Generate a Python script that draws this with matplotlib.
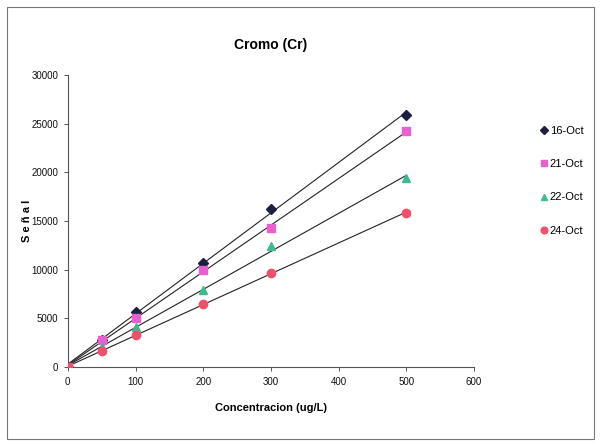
import matplotlib.pyplot as plt
import numpy as np
from matplotlib.patches import Rectangle

# concentration (ug/L) and signal per calibration day
conc = [0, 50, 100, 200, 300, 500]
oct16 = [0, 2800, 5700, 10700, 16200, 25900]
oct21 = [0, 2800, 5000, 10000, 14300, 24200]
oct22 = [0, 2100, 4100, 7900, 12400, 19400]
oct24 = [0, 1600, 3300, 6500, 9700, 15800]

series_labels = ["16-Oct", "21-Oct", "22-Oct", "24-Oct"]
series_markers = ["D", "s", "^", "o"]
series_colors = ["#1c1f3f", "#e860cf", "#3dbb8e", "#f0506a"]

FONT = ["Liberation Sans", "DejaVu Sans"]

fig = plt.figure(figsize=(6.0, 4.46), dpi=100)
fig.patches.append(Rectangle((0.012, 0.015), 0.978, 0.97, transform=fig.transFigure,
                             fill=False, edgecolor="#777777", linewidth=0.8))

ax = fig.add_axes([0.113, 0.177, 0.677, 0.655])

x = np.array(conc, dtype=float)
for values, label, marker, color in zip([oct16, oct21, oct22, oct24], series_labels,
                                        series_markers, series_colors):
    y = np.array(values, dtype=float)
    slope, intercept = np.polyfit(x, y, 1)
    ax.plot([0, 500], [intercept, slope * 500 + intercept], color="#222222", linewidth=0.8, zorder=2)
    ms = 5 if marker == "D" else 6
    ax.plot(x, y, linestyle="none", marker=marker, markersize=ms, color=color,
            markeredgecolor=color, label=label, zorder=3)

ax.set_xlim(0, 600)
ax.set_ylim(0, 30000)
ax.set_xticks(range(0, 601, 100))
ax.set_yticks(range(0, 30001, 5000))
for spine in ["top", "right"]:
    ax.spines[spine].set_visible(False)
ax.spines["left"].set_color("#555555")
ax.spines["bottom"].set_color("#555555")
ax.tick_params(direction="out", length=3, width=0.7, colors="#555555", labelcolor="#111111", pad=4)
for lab in ax.get_xticklabels() + ax.get_yticklabels():
    lab.set_family(FONT)
    lab.set_fontsize(7)

ax.set_title("Cromo (Cr)", fontsize=10, fontweight="bold", family=FONT, pad=19)
ax.set_xlabel("Concentracion (ug/L)", fontsize=8, fontweight="bold", family=FONT, labelpad=12)
ax.set_ylabel("S e ñ a l", fontsize=8, fontweight="bold", family=FONT)
ax.yaxis.set_label_coords(-0.088, 0.5)

leg = ax.legend(loc="upper left", bbox_to_anchor=(1.14, 0.86), frameon=False,
                handlelength=0.5, handletextpad=0.3, labelspacing=2.1, markerscale=0.8,
                prop={"family": FONT, "size": 8})

fig.savefig("out.png", dpi=100)
